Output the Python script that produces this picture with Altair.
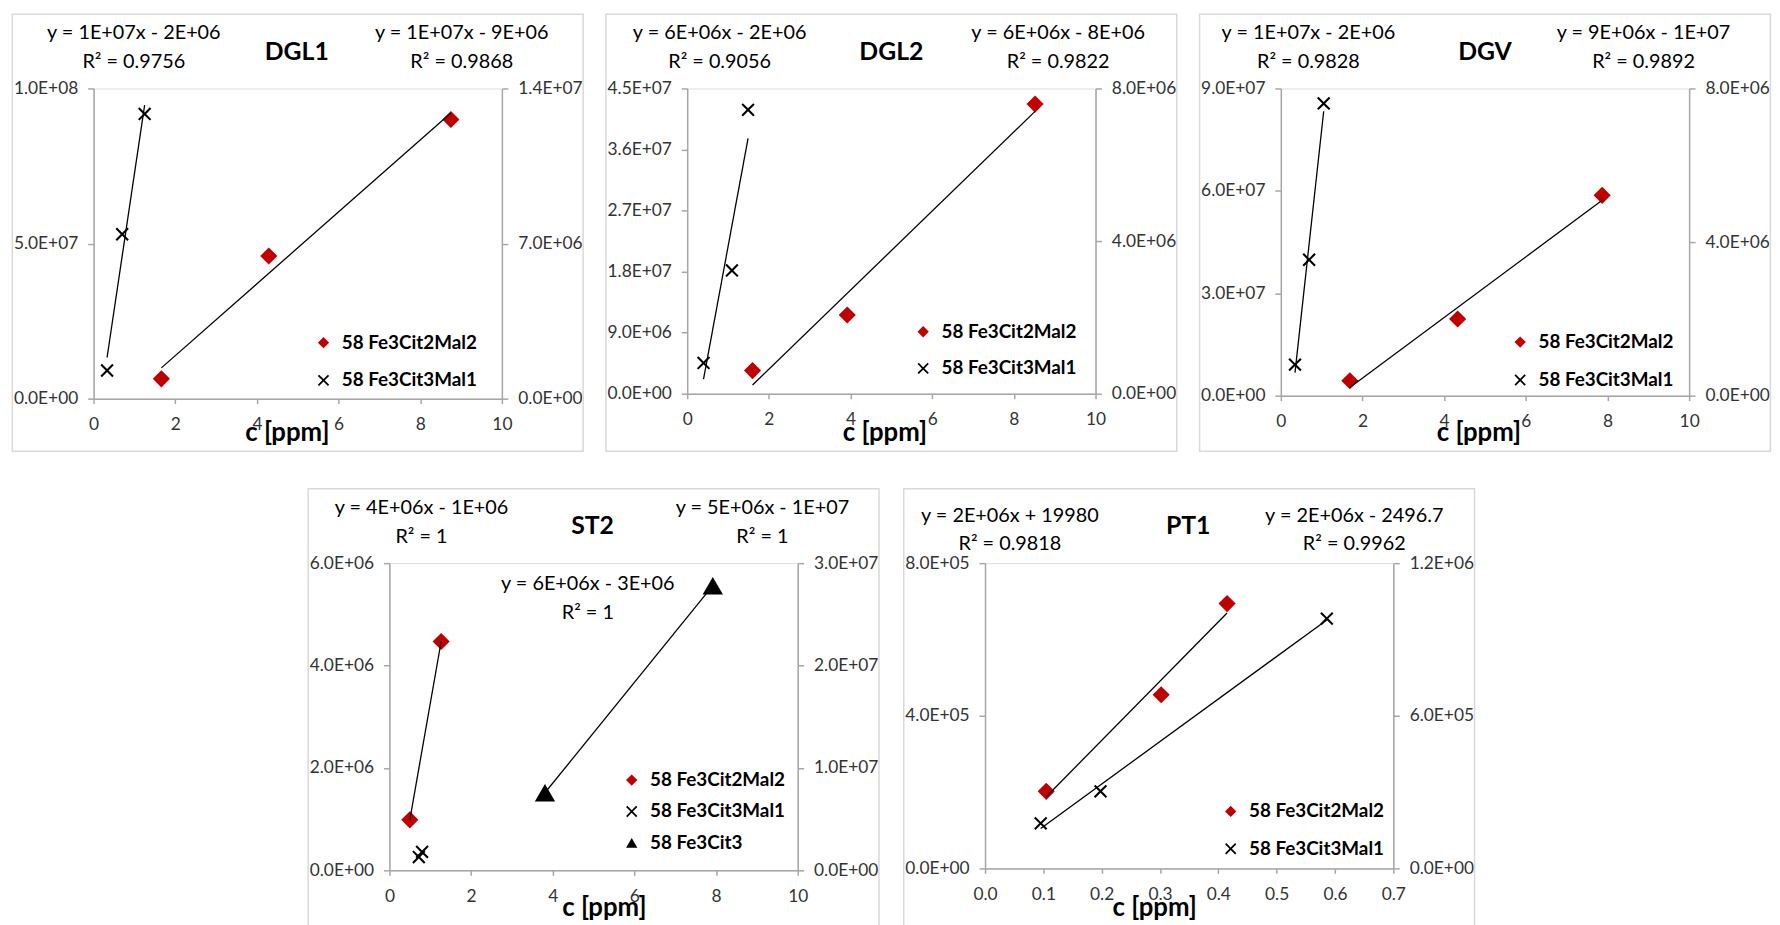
import altair as alt
import pandas as pd

# ---------------- data ----------------
S_A = "58 Fe3Cit2Mal2"
S_B = "58 Fe3Cit3Mal1"
S_C = "58 Fe3Cit3"

PANEL_TITLES = ["DGL1", "DGL2", "DGV", "ST2", "PT1"]

DGL1_A_X = [1.66, 4.29, 8.75]
DGL1_A_Y = [6.4e6, 4.6e7, 9.0e7]
DGL1_B_X = [0.33, 0.70, 1.25]
DGL1_B_Y = [1.27e6, 7.42e6, 1.285e7]
DGL1_LEFT_TICKS = [0, 5e7, 1e8]
DGL1_RIGHT_TICKS = [0, 7e6, 1.4e7]
DGL1_EQ_1 = ["y = 1E+07x - 2E+06", "R² = 0.9756"]
DGL1_EQ_2 = ["y = 1E+07x - 9E+06", "R² = 0.9868"]

DGL2_A_X = [1.60, 3.92, 8.52]
DGL2_A_Y = [3.41e6, 1.16e7, 4.27e7]
DGL2_B_X = [0.40, 1.095, 1.49]
DGL2_B_Y = [8.06e5, 3.23e6, 7.44e6]
DGL2_LEFT_TICKS = [0, 9e6, 1.8e7, 2.7e7, 3.6e7, 4.5e7]
DGL2_RIGHT_TICKS = [0, 4e6, 8e6]
DGL2_EQ_1 = ["y = 6E+06x - 2E+06", "R² = 0.9056"]
DGL2_EQ_2 = ["y = 6E+06x - 8E+06", "R² = 0.9822"]

DGV_A_X = [1.69, 4.33, 7.87]
DGV_A_Y = [4.36e6, 2.245e7, 5.87e7]
DGV_B_X = [0.347, 0.693, 1.05]
DGV_B_Y = [8.09e5, 3.54e6, 7.61e6]
DGV_LEFT_TICKS = [0, 3e7, 6e7, 9e7]
DGV_RIGHT_TICKS = [0, 4e6, 8e6]
DGV_EQ_1 = ["y = 1E+07x - 2E+06", "R² = 0.9828"]
DGV_EQ_2 = ["y = 9E+06x - 1E+07", "R² = 0.9892"]

ST2_A_X = [0.50, 1.267]
ST2_A_Y = [9.87e5, 4.47e6]
ST2_B_X = [0.72, 0.80]
ST2_B_Y = [1.3e6, 1.8e6]
ST2_C_X = [3.81, 7.92]
ST2_C_Y = [7.58e6, 2.78e7]
ST2_LEFT_TICKS = [0, 2e6, 4e6, 6e6]
ST2_RIGHT_TICKS = [0, 1e7, 2e7, 3e7]
ST2_EQ_1 = ["y = 4E+06x - 1E+06", "R² = 1"]
ST2_EQ_2 = ["y = 5E+06x - 1E+07", "R² = 1"]
ST2_EQ_3 = ["y = 6E+06x - 3E+06", "R² = 1"]

PT1_A_X = [0.105, 0.302, 0.415]
PT1_A_Y = [2.02e5, 4.55e5, 6.94e5]
PT1_B_X = [0.0955, 0.198, 0.586]
PT1_B_Y = [1.77e5, 3.03e5, 9.82e5]
PT1_LEFT_TICKS = [0, 4e5, 8e5]
PT1_RIGHT_TICKS = [0, 6e5, 1.2e6]
PT1_EQ_1 = ["y = 2E+06x + 19980", "R² = 0.9818"]
PT1_EQ_2 = ["y = 2E+06x - 2496.7", "R² = 0.9962"]

X_TICKS_10 = [0, 2, 4, 6, 8, 10]
X_TICKS_07 = [0.0, 0.1, 0.2, 0.3, 0.4, 0.5, 0.6, 0.7]
X_TITLE = "c [ppm]"

# ---------------- style ----------------
FONT = "Lato"
RED = "#c00000"
AXC = "#a6a6a6"
LBL = "#333333"
X_PATH = "M-1,-0.78L-0.78,-1L0,-0.22L0.78,-1L1,-0.78L0.22,0L1,0.78L0.78,1L0,0.22L-0.78,1L-1,0.78L-0.22,0Z"
STYLE = {S_A: (RED, "diamond", 300), S_B: ("#000000", X_PATH, 180), S_C: ("#000000", "triangle-up", 420)}
W = 412
FRAME_L, FRAME_R, FRAME_T, FRAME_H = 82, 82, 75, 441

E_EXPR = ("datum.value == 0 ? '0.0E+00' : "
          "format(datum.value / pow(10, floor(log(datum.value) / LN10 + 1e-9)), '.1f') + 'E+' + "
          "(floor(log(datum.value) / LN10 + 1e-9) < 10 ? '0' : '') + floor(log(datum.value) / LN10 + 1e-9)")

ONE = pd.DataFrame({"k": [0]})


def series_df(items):
    rows = []
    for name, xs, ys in items:
        for xv, yv in zip(xs, ys):
            rows.append({"series": name, "x": xv, "y": yv})
    return pd.DataFrame(rows)


def side(items, ticks, orient, xenc, enc):
    df = series_df(items)
    y = alt.Y("y:Q", scale=alt.Scale(domain=[0, ticks[-1]], nice=False),
              axis=alt.Axis(orient=orient, values=ticks, labelExpr=E_EXPR, title=None, grid=False,
                            tickSize=6, labelPadding=10, domainColor=AXC, tickColor=AXC,
                            domainWidth=1.5, tickWidth=1.5,
                            labelFont=FONT, labelFontSize=17.5, labelColor=LBL, labelOverlap=False))
    pts = alt.Chart(df).mark_point(filled=True, opacity=1, strokeWidth=0).encode(x=xenc, y=y, **enc)
    line = (alt.Chart(df).transform_regression("x", "y", groupby=["series"])
            .mark_line(color="black", strokeWidth=1.3, clip=True)
            .encode(x=xenc, y=y, detail=alt.Detail("series:N")))
    return alt.layer(pts, line)


def text_layer(lines, cx, cy, size=20, bold=False, lh=29):
    return alt.Chart(ONE).mark_text(
        font=FONT, fontSize=size, fontWeight="bold" if bold else "normal", color="black",
        align="center", baseline="middle", lineBreak="\n", lineHeight=lh
    ).encode(x=alt.value(cx), y=alt.value(cy), text=alt.value("\n".join(lines)))


def panel(title, left_items, right_items, lticks, rticks, xticks, xfmt, h,
          title_x, eqs, leg, xtitle):
    dom = [n for n, _, _ in left_items + right_items]
    size_dom = sorted(dom, key=lambda n: STYLE[n][2])
    sym_cx, sym_cy, gap = leg
    legend = alt.Legend(orient="none", legendX=sym_cx - 6, legendY=sym_cy - 9, title=None,
                        labelFont=FONT, labelFontWeight="bold", labelFontSize=19, labelColor="black",
                        symbolSize=130, rowPadding=gap - 19, labelOffset=9, padding=0,
                        symbolStrokeWidth=0, labelLimit=400)
    enc = dict(
        color=alt.Color("series:N", scale=alt.Scale(domain=dom, range=[STYLE[n][0] for n in dom]), legend=legend),
        shape=alt.Shape("series:N", scale=alt.Scale(domain=dom, range=[STYLE[n][1] for n in dom]), legend=legend),
        size=alt.Size("series:N", scale=alt.Scale(domain=size_dom,
                                                  range=[STYLE[size_dom[0]][2], STYLE[size_dom[-1]][2]]),
                      legend=None),
    )
    xenc = alt.X("x:Q", scale=alt.Scale(domain=[0, xticks[-1]], nice=False),
                 axis=alt.Axis(values=xticks, format=xfmt, grid=False, tickSize=5, labelPadding=12,
                               domainColor=AXC, tickColor=AXC, domainWidth=1.5, tickWidth=1.5,
                               labelFont=FONT, labelFontSize=17.5,
                               labelColor=LBL, labelFlush=False, labelOverlap=False,
                               title=X_TITLE, titleFont=FONT, titleFontSize=26, titleFontWeight="bold",
                               titleColor="black", titleX=xtitle[0], titleY=xtitle[1] + 1.5,
                               titleAlign="center", titleBaseline="alphabetic"))
    frame = alt.Chart(ONE).mark_rect(fill="white", fillOpacity=0, stroke="#d9d9d9", strokeWidth=1.5).encode(
        x=alt.value(-FRAME_L), x2=alt.value(W + FRAME_R),
        y=alt.value(-FRAME_T), y2=alt.value(FRAME_H - FRAME_T))
    texts = [text_layer([title], title_x, -37, size=25, bold=True)]
    for lines, cx, cy in eqs:
        texts.append(text_layer(lines, cx, cy))
    left = side(left_items, lticks, "left", xenc, enc)
    right = side(right_items, rticks, "right", xenc, enc)
    return (alt.layer(frame, *texts, left, right)
            .resolve_scale(y="independent")
            .properties(width=W, height=h))


p1 = panel(PANEL_TITLES[0], [(S_A, DGL1_A_X, DGL1_A_Y)], [(S_B, DGL1_B_X, DGL1_B_Y)],
           DGL1_LEFT_TICKS, DGL1_RIGHT_TICKS, X_TICKS_10, "d", 313, 205,
           [(DGL1_EQ_1, 40.6, -56), (DGL1_EQ_2, 371.5, -56)], (228.5, 256, 37), (195, 40.7))
p2 = panel(PANEL_TITLES[1], [(S_A, DGL2_A_X, DGL2_A_Y)], [(S_B, DGL2_B_X, DGL2_B_Y)],
           DGL2_LEFT_TICKS, DGL2_RIGHT_TICKS, X_TICKS_10, "d", 308, 206,
           [(DGL2_EQ_1, 32.7, -56), (DGL2_EQ_2, 374.3, -56)], (234.6, 245, 36), (199, 45.7))
p3 = panel(PANEL_TITLES[2], [(S_A, DGV_A_X, DGV_A_Y)], [(S_B, DGV_B_X, DGV_B_Y)],
           DGV_LEFT_TICKS, DGV_RIGHT_TICKS, X_TICKS_10, "d", 310, 206,
           [(DGV_EQ_1, 27.8, -56), (DGV_EQ_2, 366, -56)], (238, 255.4, 37.3), (199.4, 43.4))
p4 = panel(PANEL_TITLES[3], [(S_A, ST2_A_X, ST2_A_Y)], [(S_B, ST2_B_X, ST2_B_Y), (S_C, ST2_C_X, ST2_C_Y)],
           ST2_LEFT_TICKS, ST2_RIGHT_TICKS, X_TICKS_10, "d", 310, 205,
           [(ST2_EQ_1, 32.4, -55.5), (ST2_EQ_2, 376.4, -55.5), (ST2_EQ_3, 200.2, 21.2)],
           (241, 218.4, 30.7), (216.4, 43.7))
p5 = panel(PANEL_TITLES[4], [(S_A, PT1_A_X, PT1_A_Y)], [(S_B, PT1_B_X, PT1_B_Y)],
           PT1_LEFT_TICKS, PT1_RIGHT_TICKS, X_TICKS_07, ".1f", 308, 205,
           [(PT1_EQ_1, 25.1, -48), (PT1_EQ_2, 372.6, -48)], (244.4, 250, 36.7), (170.7, 46))

RES = dict(color="independent", shape="independent", size="independent")
top = alt.hconcat(p1, p2, p3, spacing=19).resolve_scale(**RES)
bottom = alt.hconcat(p4, p5, spacing=21).resolve_scale(**RES)
chart = (alt.vconcat(top, bottom, spacing=34, center=True)
         .resolve_scale(**RES)
         .properties(padding={"left": 3, "top": 0, "right": 0, "bottom": 0})
         .configure_view(stroke=None)
         .configure(font=FONT, background="white"))

chart.save("out.html", embed_options={"renderer": "svg", "actions": False})
